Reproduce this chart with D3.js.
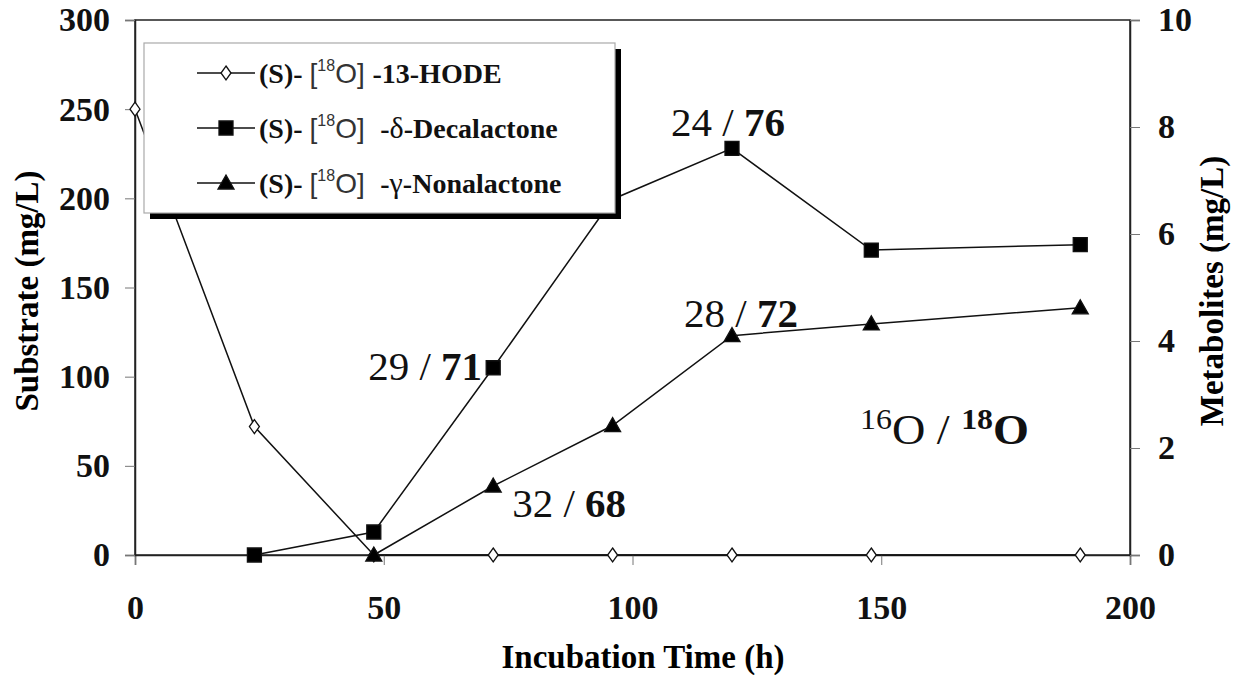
<!DOCTYPE html>
<html>
<head>
<meta charset="utf-8">
<script src="https://cdn.jsdelivr.net/npm/d3@7"></script>
<style>
  body { margin: 0; background: #fff; }
  text { font-family: "Liberation Serif", "Times New Roman", serif; }
</style>
</head>
<body>
<svg id="svg1"></svg>
<script>
// data
const hours = [0, 24, 48, 72, 96, 120, 148, 190];
const hode = [250, 72, 0, 0, 0, 0, 0, 0];            // substrate, left axis
const decaHours = [24, 48, 72, 96, 120, 148, 190];
const decalactone = [0, 0.43, 3.5, 6.65, 7.6, 5.7, 5.8];   // right axis
const nonaHours = [48, 72, 96, 120, 148, 190];
const nonalactone = [0, 1.29, 2.42, 4.1, 4.32, 4.62];      // right axis
const xTicks = [0, 50, 100, 150, 200];
const leftTicks = [0, 50, 100, 150, 200, 250, 300];
const rightTicks = [0, 2, 4, 6, 8, 10];
// isotope ratio labels 16O / 18O
const ratioLabels = [
  {hour: 72, value: 3.5, light: "29", heavy: "71", dx: -125, dy: 12},
  {hour: 120, value: 7.6, light: "24", heavy: "76", dx: -61, dy: -12},
  {hour: 120, value: 4.1, light: "28", heavy: "72", dx: -48, dy: -9},
  {hour: 72, value: 1.29, light: "32", heavy: "68", dx: 19, dy: 31}
];

const width = 1239;
const height = 675;
const plot = {left: 135, right: 1130, top: 20, bottom: 555};

const svg = d3.select('#svg1')
    .attr('width', width)
    .attr('height', height);

const x = d3.scaleLinear().domain([0, 200]).range([plot.left, plot.right]);
const yL = d3.scaleLinear().domain([0, 300]).range([plot.bottom, plot.top]);
const yR = d3.scaleLinear().domain([0, 10]).range([plot.bottom, plot.top]);

// frame
svg.append("rect")
    .attr("x", plot.left).attr("y", plot.top)
    .attr("width", plot.right - plot.left).attr("height", plot.bottom - plot.top)
    .attr("fill", "none").attr("stroke", "#222").attr("stroke-width", 1.5);

// axes
function styleAxis(g) {
  g.select(".domain").attr("stroke", "#222").attr("stroke-width", 1.5);
  g.selectAll(".tick line").attr("stroke", "#777").attr("stroke-width", 1);
  g.selectAll(".tick text")
      .attr("font-family", "Liberation Serif")
      .attr("font-weight", "bold")
      .attr("font-size", 34)
      .attr("fill", "#111");
}

svg.append("g")
    .attr("transform", "translate(0," + plot.bottom + ")")
    .call(d3.axisBottom(x).tickValues(xTicks).tickSize(10).tickPadding(30))
    .call(styleAxis);

svg.append("g")
    .attr("transform", "translate(" + plot.left + ",0)")
    .call(d3.axisLeft(yL).tickValues(leftTicks).tickSize(10).tickPadding(15))
    .call(styleAxis);

svg.append("g")
    .attr("transform", "translate(" + plot.right + ",0)")
    .call(d3.axisRight(yR).tickValues(rightTicks).tickSize(10).tickPadding(18))
    .call(styleAxis);

// axis titles
svg.append("text")
    .attr("x", 643).attr("y", 668)
    .attr("text-anchor", "middle")
    .attr("font-weight", "bold").attr("font-size", 33)
    .text("Incubation Time (h)");

svg.append("text")
    .attr("transform", "translate(38,291)rotate(-90)")
    .attr("text-anchor", "middle")
    .attr("font-weight", "bold").attr("font-size", 33)
    .text("Substrate (mg/L)");

svg.append("text")
    .attr("transform", "translate(1223,291)rotate(-90)")
    .attr("text-anchor", "middle")
    .attr("font-weight", "bold").attr("font-size", 33)
    .text("Metabolites (mg/L)");

// series
const hodeData = hours.map((h, i) => ({h: h, v: hode[i]}));
const decaData = decaHours.map((h, i) => ({h: h, v: decalactone[i]}));
const nonaData = nonaHours.map((h, i) => ({h: h, v: nonalactone[i]}));

const lineL = d3.line().x(d => x(d.h)).y(d => yL(d.v));
const lineR = d3.line().x(d => x(d.h)).y(d => yR(d.v));

const diamond = "M0,-7L5,0L0,7L-5,0Z";
const square = "M-7,-7H7V7H-7Z";
const triangle = "M0,-8L8,6H-8Z";

function drawSeries(data, line, y, shape, fill) {
  svg.append("path")
      .datum(data)
      .attr("d", line)
      .attr("fill", "none")
      .attr("stroke", "#111")
      .attr("stroke-width", 1.5);
  svg.selectAll(null)
      .data(data)
      .enter()
      .append("path")
      .attr("transform", d => "translate(" + x(d.h) + "," + y(d.v) + ")")
      .attr("d", shape)
      .attr("fill", fill)
      .attr("stroke", "#111")
      .attr("stroke-width", 1.3);
}

drawSeries(hodeData, lineL, yL, diamond, "#fff");
drawSeries(decaData, lineR, yR, square, "#000");
drawSeries(nonaData, lineR, yR, triangle, "#000");

// ratio labels
ratioLabels.forEach(function(r) {
  const t = svg.append("text")
      .attr("x", x(r.hour) + r.dx)
      .attr("y", yR(r.value) + r.dy)
      .attr("font-size", 41)
      .attr("fill", "#111");
  t.append("tspan").text(r.light + " / ");
  t.append("tspan").attr("font-weight", "bold").text(r.heavy);
});

const iso = svg.append("text")
    .attr("transform", "translate(860,444)scale(1.1,1)")
    .attr("font-size", 42)
    .attr("fill", "#111");
iso.append("tspan").attr("font-size", 29).attr("dy", -15).text("16");
iso.append("tspan").attr("dy", 15).text("O / ");
iso.append("tspan").attr("font-size", 29).attr("font-weight", "bold").attr("dy", -15).text("18");
iso.append("tspan").attr("font-weight", "bold").attr("dy", 15).text("O");

// legend
const legendEntries = [
  {name: "-13-HODE", greek: "", shape: diamond, fill: "#fff", sep: " "},
  {name: "Decalactone", greek: "\u03b4", shape: square, fill: "#000", sep: "  "},
  {name: "Nonalactone", greek: "\u03b3", shape: triangle, fill: "#000", sep: "  "}
];
const lg = svg.append("g").attr("transform", "translate(144,43)");
lg.append("rect")
    .attr("x", 6).attr("y", 6).attr("width", 471).attr("height", 170)
    .attr("fill", "#000");
lg.append("rect")
    .attr("width", 471).attr("height", 170)
    .attr("fill", "#fff").attr("stroke", "#aaa").attr("stroke-width", 1.2);

legendEntries.forEach(function(e, i) {
  const cy = 30 + i * 55;
  lg.append("line")
      .attr("x1", 53).attr("x2", 111).attr("y1", cy).attr("y2", cy)
      .attr("stroke", "#111").attr("stroke-width", 1.5);
  lg.append("path")
      .attr("transform", "translate(82," + cy + ")")
      .attr("d", e.shape)
      .attr("fill", e.fill).attr("stroke", "#111").attr("stroke-width", 1.3);
  const t = lg.append("text")
      .attr("x", 115).attr("y", cy + 10)
      .attr("font-size", 28).attr("fill", "#111")
      .attr("xml:space", "preserve");
  t.append("tspan").attr("font-weight", "bold").text("(S)- ");
  t.append("tspan").attr("font-family", "Liberation Sans").attr("fill", "#333").text("[");
  t.append("tspan").attr("font-family", "Liberation Sans").attr("fill", "#333")
      .attr("font-size", 16).attr("dy", -12).text("18");
  t.append("tspan").attr("font-family", "Liberation Sans").attr("fill", "#333")
      .attr("dy", 12).text("O]" + e.sep);
  if (e.greek) {
    t.append("tspan").attr("font-weight", "bold").text("-");
    t.append("tspan").attr("font-size", 30).text(e.greek);
    t.append("tspan").attr("font-weight", "bold").text("-" + e.name);
  } else {
    t.append("tspan").attr("font-weight", "bold").text(e.name);
  }
});
</script>
</body>
</html>
